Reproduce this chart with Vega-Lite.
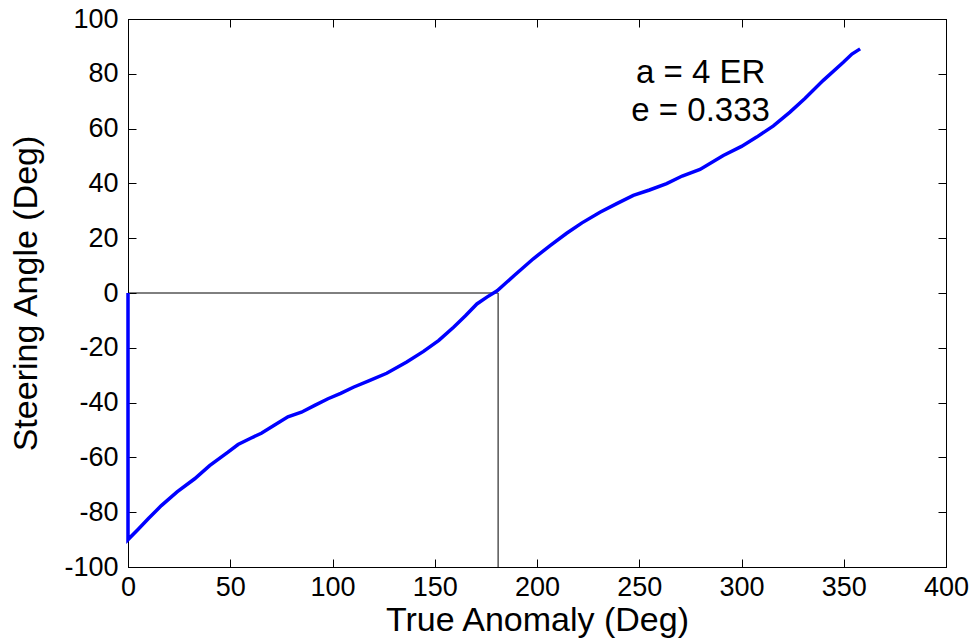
{
  "$schema": "https://vega.github.io/schema/vega-lite/v6.json",
  "width": 818,
  "height": 548,
  "autosize": {"type": "none"},
  "padding": {"left": 128, "top": 19, "right": 29, "bottom": 71},
  "background": "white",
  "config": {
    "view": {"stroke": "#000", "strokeWidth": 1},
    "axis": {
      "grid": false,
      "domainColor": "#000",
      "tickColor": "#000",
      "labelColor": "#000",
      "titleColor": "#000",
      "labelFont": "Liberation Sans",
      "titleFont": "Liberation Sans",
      "labelFontSize": 27,
      "titleFontSize": 34,
      "titleFontWeight": "normal",
      "tickSize": -8,
      "labelPadding": 18,
      "labelFlush": false,
      "labelOverlap": false,
      "labelExpr": "datum.value < 0 ? '-' + abs(datum.value) : '' + datum.value"
    }
  },
  "datasets": {
    "curve": [
      {"x": 0, "y": 0},
      {"x": 0, "y": -90},
      {"x": 5, "y": -86.2},
      {"x": 10, "y": -82.3},
      {"x": 16.3, "y": -77.6},
      {"x": 24, "y": -72.6},
      {"x": 32.6, "y": -67.8},
      {"x": 39.9, "y": -63},
      {"x": 48.9, "y": -58.1},
      {"x": 53.8, "y": -55.3},
      {"x": 60, "y": -53},
      {"x": 65.2, "y": -51.2},
      {"x": 71.7, "y": -48.2},
      {"x": 78.2, "y": -45.2},
      {"x": 84.8, "y": -43.5},
      {"x": 91.3, "y": -41},
      {"x": 97.8, "y": -38.6},
      {"x": 104, "y": -36.6},
      {"x": 110.2, "y": -34.4},
      {"x": 118, "y": -32},
      {"x": 126.5, "y": -29.3},
      {"x": 136.3, "y": -25.2},
      {"x": 144.5, "y": -21.3},
      {"x": 152, "y": -17.3},
      {"x": 159.2, "y": -12.5},
      {"x": 165, "y": -8.3},
      {"x": 170.6, "y": -4},
      {"x": 175.5, "y": -1.5},
      {"x": 180.5, "y": 0.8},
      {"x": 189, "y": 6.5},
      {"x": 198.2, "y": 12.5},
      {"x": 206.4, "y": 17.3},
      {"x": 214.5, "y": 21.8},
      {"x": 222, "y": 25.6},
      {"x": 230.8, "y": 29.5},
      {"x": 239, "y": 32.6},
      {"x": 247.1, "y": 35.6},
      {"x": 255, "y": 37.6},
      {"x": 263.4, "y": 39.9},
      {"x": 271, "y": 42.7},
      {"x": 279.7, "y": 45.1},
      {"x": 291.1, "y": 50.2},
      {"x": 300, "y": 53.5},
      {"x": 307.4, "y": 56.9},
      {"x": 315.6, "y": 61},
      {"x": 323.7, "y": 66},
      {"x": 331, "y": 71},
      {"x": 340, "y": 77.6},
      {"x": 349.8, "y": 84.2},
      {"x": 354, "y": 87.2},
      {"x": 358, "y": 89.1}
    ],
    "hline": [
      {"x": 0, "y": 0},
      {"x": 181, "y": 0}
    ],
    "vline": [
      {"x": 181, "y": 0},
      {"x": 181, "y": -100}
    ],
    "notes": [
      {"x": 280, "y": 76.5, "label": "a = 4 ER"},
      {"x": 280, "y": 62.6, "label": "e = 0.333"}
    ]
  },
  "resolve": {"axis": {"x": "independent", "y": "independent"}},
  "layer": [
    {
      "data": {"name": "hline"},
      "mark": {"type": "line", "strokeWidth": 1, "color": "#000000"},
      "encoding": {
        "x": {"field": "x", "type": "quantitative", "scale": {"domain": [0, 400], "nice": false},
              "axis": {"values": [0, 50, 100, 150, 200, 250, 300, 350, 400], "title": "True Anomaly (Deg)", "titlePadding": 3, "labelPadding": 15}},
        "y": {"field": "y", "type": "quantitative", "scale": {"domain": [-100, 100], "nice": false},
              "axis": {"values": [-100, -80, -60, -40, -20, 0, 20, 40, 60, 80, 100], "title": "Steering Angle (Deg)", "titlePadding": 20}}
      }
    },
    {
      "data": {"name": "vline"},
      "mark": {"type": "line", "strokeWidth": 1.5, "color": "#555555"},
      "encoding": {
        "x": {"field": "x", "type": "quantitative", "axis": null},
        "y": {"field": "y", "type": "quantitative", "axis": null}
      }
    },
    {
      "data": {"name": "curve"},
      "mark": {"type": "line", "color": "#0000ff", "strokeWidth": 3.5},
      "encoding": {
        "x": {"field": "x", "type": "quantitative", "axis": {"orient": "top", "values": [0, 50, 100, 150, 200, 250, 300, 350, 400], "labels": false, "title": null}},
        "y": {"field": "y", "type": "quantitative", "axis": {"orient": "right", "values": [-100, -80, -60, -40, -20, 0, 20, 40, 60, 80, 100], "labels": false, "title": null}}
      }
    },
    {
      "data": {"name": "notes"},
      "mark": {"type": "text", "font": "Liberation Sans", "fontSize": 33, "align": "center", "baseline": "alphabetic", "color": "#000"},
      "encoding": {
        "x": {"field": "x", "type": "quantitative", "axis": null},
        "y": {"field": "y", "type": "quantitative", "axis": null},
        "text": {"field": "label"}
      }
    }
  ]
}
